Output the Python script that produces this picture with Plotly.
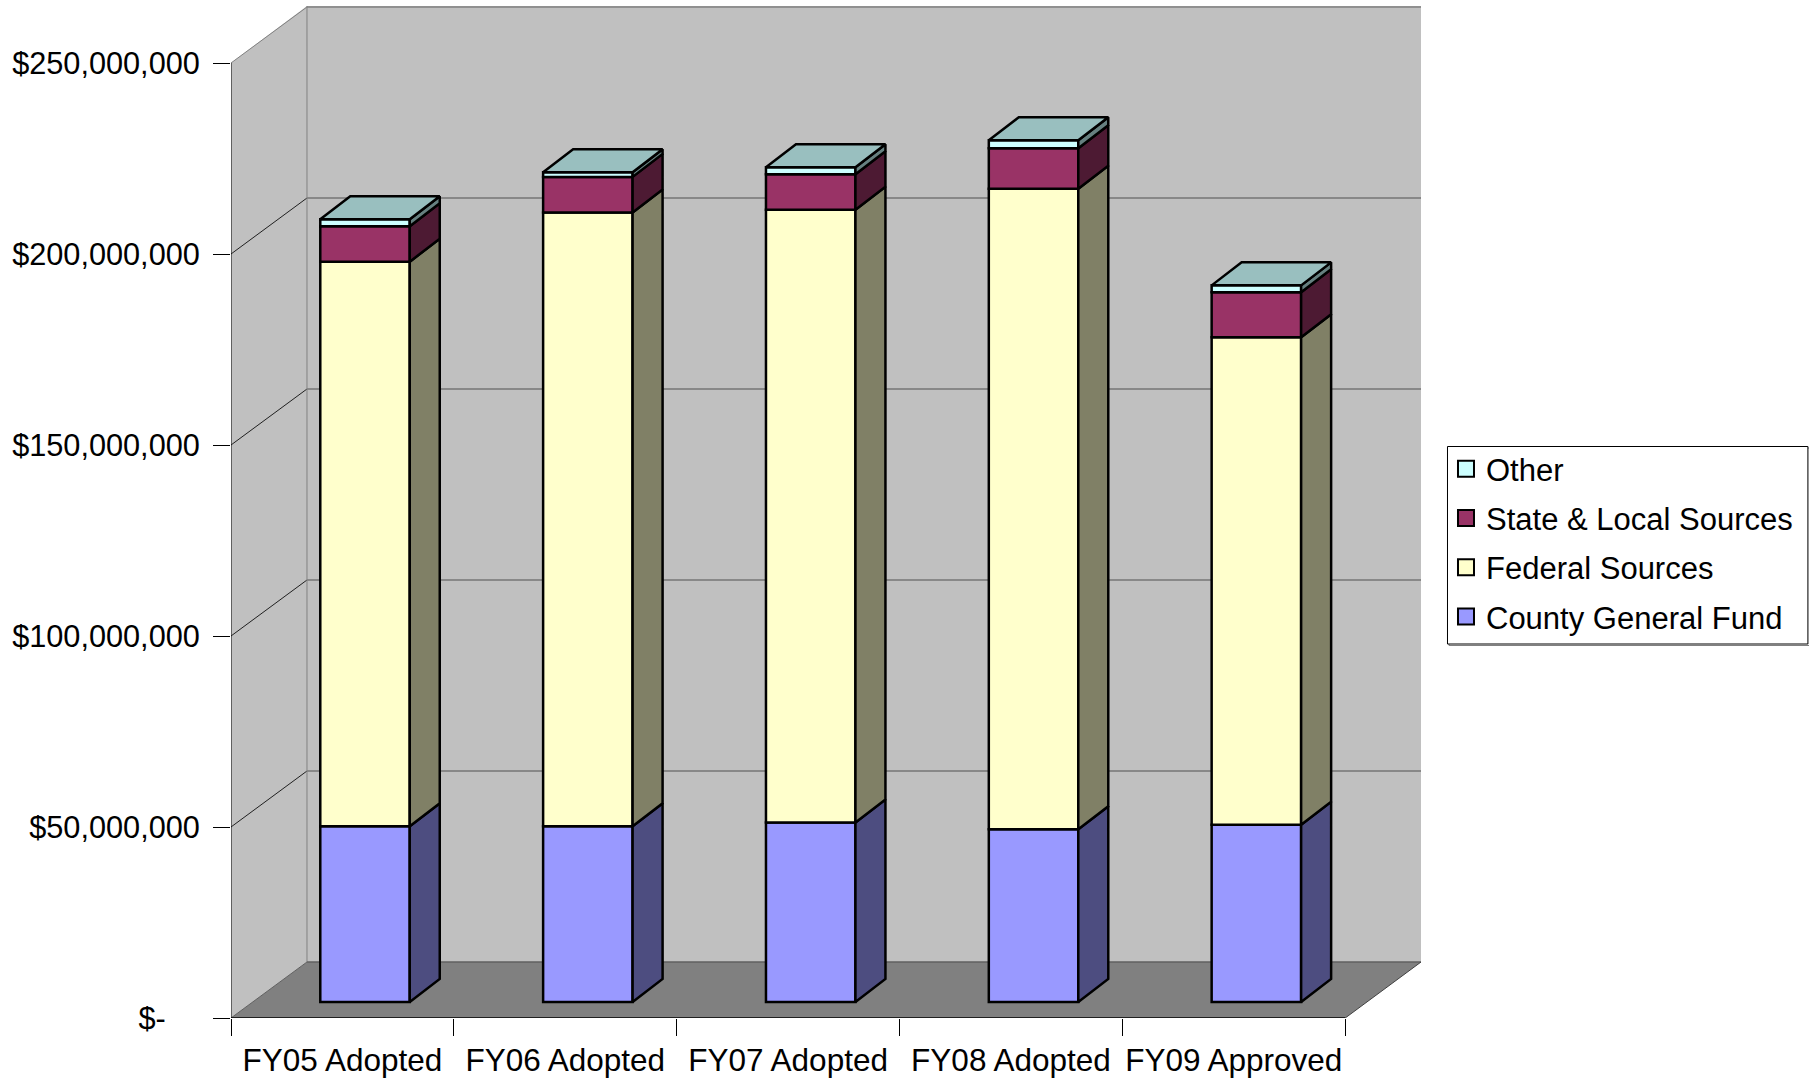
import plotly.graph_objects as go

categories = ["FY05 Adopted", "FY06 Adopted", "FY07 Adopted", "FY08 Adopted", "FY09 Approved"]
county = [46.0, 46.0, 47.0, 45.2, 46.4]
federal = [147.8, 160.7, 160.4, 167.7, 127.6]
state = [9.3, 9.3, 9.3, 10.6, 11.8]
other = [1.8, 1.2, 1.8, 2.1, 1.8]
series_names = ["County General Fund", "Federal Sources", "State & Local Sources", "Other"]
series_values = [county, federal, state, other]
front_colors = ["#9999FF", "#FFFFCC", "#993366", "#CCFFFF"]
side_colors = ["#4D4D80", "#808066", "#4D1A33", "#668080"]
top_color = "#99BFBF"
y_ticks = [0, 50, 100, 150, 200, 250]
y_labels = ["$-\u00a0\u00a0\u00a0\u00a0", "$50,000,000", "$100,000,000", "$150,000,000", "$200,000,000", "$250,000,000"]

# geometry: plot pixels -> data units
PW, PH = 1809, 1078
L, R, T, B = 230.7, 1421.0, 6.0, 1018.0
UX = 222.9        # px per category
UY = 3.82         # px per $M
xmax = (R - L) / UX
ymax = (B - T) / UY
wall_dx = 76 / UX      # depth of the floor
wall_dy = 56 / UY
bar_w = 89.5 / UX
bar_off_x = 22.6 / UX
bar_off_y = 16 / UY
bar_dx = 30 / UX
bar_dy = 23 / UY
centers = [i + 0.5 for i in range(len(categories))]
bar_x = [c + bar_off_x for c in centers]

shapes = []
def poly(pts, fill, line="rgba(0,0,0,0)", w=0):
    p = "M" + " L".join(f"{x},{y}" for x, y in pts) + " Z"
    shapes.append(dict(type="path", path=p, fillcolor=fill, line=dict(color=line, width=w), layer="below"))
def seg(a, b, color, w=1):
    shapes.append(dict(type="line", x0=a[0], y0=a[1], x1=b[0], y1=b[1], line=dict(color=color, width=w), layer="below"))

poly([(wall_dx, wall_dy), (xmax, wall_dy), (xmax, ymax), (wall_dx, ymax)], "#C0C0C0")
poly([(0, 0), (wall_dx, wall_dy), (wall_dx, ymax), (0, 250)], "#C0C0C0")
poly([(0, 0), (5, 0), (xmax, wall_dy), (wall_dx, wall_dy)], "#808080")
for v in y_ticks[1:]:
    seg((0, v), (wall_dx, v + wall_dy), "#202020" if v < 250 else "#808080")
    seg((wall_dx, v + wall_dy), (xmax, v + wall_dy), "#505050" if v < 250 else "#808080", 1 if v < 250 else 1.5)
seg((wall_dx, wall_dy), (wall_dx, ymax), "#808080")
seg((wall_dx, wall_dy), (xmax, wall_dy), "#606060", 1.5)
seg((0, 0), (wall_dx, wall_dy), "#606060")
seg((5, 0), (xmax, wall_dy), "#404040")
seg((0, 0), (0, 250), "#000000")
seg((0, 0), (5, 0), "#000000", 1.5)

# legend frame with its soft shadow
LX0, LX1, LY0, LY1 = 1447.5, 1808, 446.5, 644
for off, col in ((1.5, "#808080"), (0, "#000000")):
    shapes.append(dict(type="rect", xref="paper", yref="paper", layer="below",
                       x0=(LX0 + off - L) / (R - L), x1=(LX1 + off - L) / (R - L),
                       y0=(B - LY1 - off) / (B - T), y1=(B - LY0 - off) / (B - T),
                       fillcolor="#FFFFFF", line=dict(color=col, width=1)))

fig = go.Figure()
LW = 2.5
base = [bar_off_y] * len(categories)
bases = []
for vals in series_values:
    bases.append(list(base))
    base = [b + v for b, v in zip(base, vals)]
tops = base

# front faces
for name, vals, b0, col in zip(series_names, series_values, bases, front_colors):
    fig.add_trace(go.Bar(x=bar_x, y=vals, base=b0, width=bar_w, name=name, showlegend=False,
                         marker=dict(color=col, line=dict(color="#000000", width=LW))))

# right side faces
for name, vals, b0, col in zip(series_names, series_values, bases, side_colors):
    xs, ys = [], []
    for x, v, b in zip(bar_x, vals, b0):
        xr = x + bar_w / 2
        xs += [xr, xr + bar_dx, xr + bar_dx, xr, xr, None]
        ys += [b, b + bar_dy, b + v + bar_dy, b + v, b, None]
    fig.add_trace(go.Scatter(x=xs, y=ys, mode="lines", fill="toself", fillcolor=col, showlegend=False,
                             name=name + " side", hoverinfo="skip", line=dict(color="#000000", width=LW)))

# top faces
xs, ys = [], []
for x, t in zip(bar_x, tops):
    xl, xr = x - bar_w / 2, x + bar_w / 2
    xs += [xl, xr, xr + bar_dx, xl + bar_dx, xl, None]
    ys += [t, t, t + bar_dy, t + bar_dy, t, None]
fig.add_trace(go.Scatter(x=xs, y=ys, mode="lines", fill="toself", fillcolor=top_color, showlegend=False,
                         name="top", hoverinfo="skip", line=dict(color="#000000", width=LW)))

# legend entries, top to bottom
for i in [3, 2, 1, 0]:
    fig.add_trace(go.Scatter(x=[None], y=[None], mode="markers", name=series_names[i], legendgroup=series_names[i],
                             marker=dict(symbol="square", size=16, color=front_colors[i],
                                         line=dict(color="#000000", width=2))))

FONT = "Liberation Sans"
fig.update_layout(
    width=PW, height=PH,
    margin=dict(l=L, r=PW - R, t=T, b=PH - B, autoexpand=False),
    paper_bgcolor="#FFFFFF", plot_bgcolor="#FFFFFF",
    barmode="overlay", shapes=shapes,
    font=dict(family=FONT, size=30, color="#000000"),
    legend=dict(x=(1446 - L) / (R - L), y=(B - 442) / (B - T), xanchor="left", yanchor="top",
                bgcolor="rgba(0,0,0,0)", borderwidth=0,
                font=dict(family=FONT, size=31), traceorder="grouped", tracegroupgap=6,
                itemsizing="trace"),
    xaxis=dict(range=[0, xmax], tickmode="array", tickvals=centers, ticktext=categories, ticks="",
               showgrid=False, zeroline=False, showline=False, ticklabelstandoff=20,
               tickfont=dict(size=31.5),
               minor=dict(tickmode="array", tickvals=[0, 1, 2, 3, 4, 5], ticks="outside", ticklen=17,
                          tickcolor="#000000", tickwidth=1, showgrid=False)),
    yaxis=dict(range=[0, ymax], tickmode="array", tickvals=y_ticks, ticktext=y_labels, ticks="outside",
               ticklen=17, tickcolor="#000000", tickwidth=1, showgrid=False, zeroline=False, showline=False,
               ticklabelstandoff=7, tickfont=dict(size=30.7)),
)
fig.write_html("out.html", post_script="document.body.style.margin='0';", config={"displayModeBar": False})
